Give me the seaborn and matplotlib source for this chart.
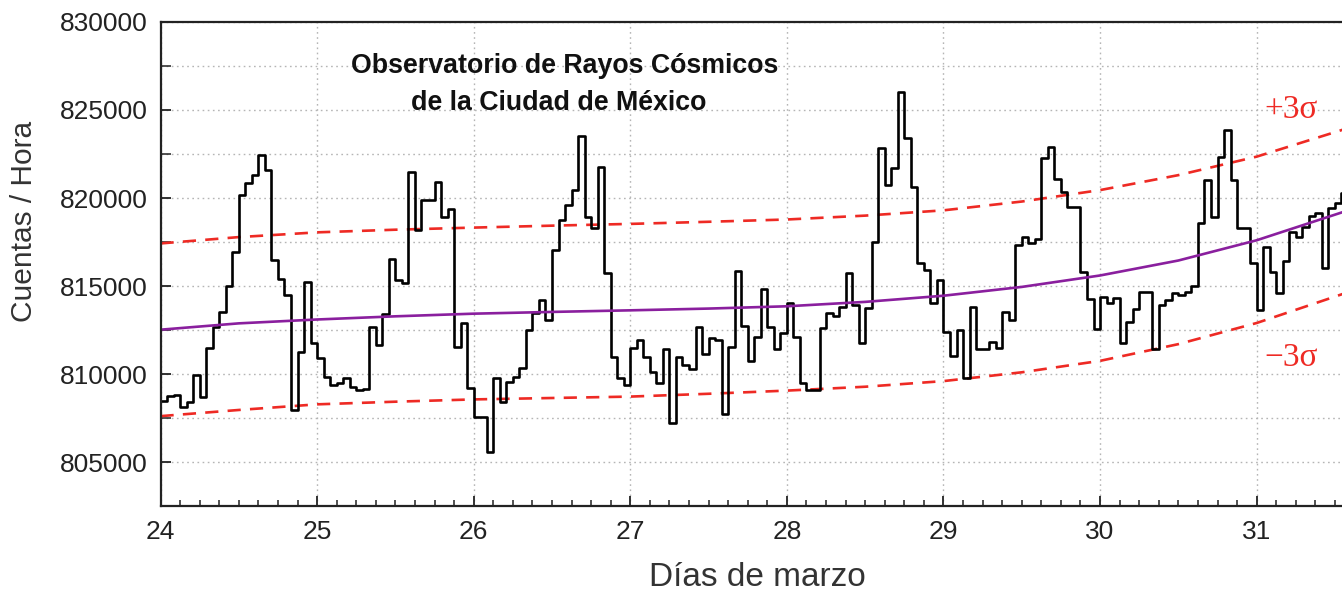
import numpy as np
import pandas as pd
import matplotlib
matplotlib.use("Agg")
import matplotlib.pyplot as plt
import seaborn as sns
from matplotlib.ticker import MultipleLocator, FuncFormatter

sns.set_style("ticks")
plt.rcParams['font.family'] = ['Liberation Sans', 'DejaVu Sans']

# Hourly counts, one list per day of March (hour 0 .. 23)
march_24 = [808480, 808750, 808800, 808140, 808430, 809940, 808710, 811460,
            812690, 813540, 815000, 816950, 820170, 820830, 821310, 822440,
            821590, 816480, 815380, 814490, 807950, 811270, 815240, 811740]
march_25 = [810890, 809850, 809370, 809470, 809750, 809280, 809090, 809130,
            812690, 811650, 813410, 816520, 815340, 815150, 821490, 818180,
            819890, 819890, 820890, 818900, 819370, 811550, 812910, 809220]
march_26 = [807570, 807570, 805580, 809750, 808430, 809560, 809850, 810320,
            812500, 813450, 814200, 813070, 817050, 818750, 819600, 820450,
            823520, 818940, 818280, 821780, 815760, 810980, 809750, 809370]
march_27 = [811460, 811930, 810970, 810130, 809470, 811400, 807230, 810950,
            810510, 810270, 812650, 811140, 812030, 811930, 807730, 811550,
            815870, 812730, 810760, 812120, 814810, 812650, 811400, 812310]
march_28 = [814020, 812080, 809470, 809090, 809090, 812600, 813450, 813300,
            813820, 815760, 813920, 811740, 813730, 817520, 822820, 820740,
            821690, 826040, 823390, 820640, 816290, 815910, 814020, 815340]
march_29 = [812400, 811020, 812500, 809750, 813820, 811420, 811420, 811800,
            811460, 813540, 813070, 817330, 817770, 817460, 817650, 822260,
            822880, 821060, 820360, 819510, 819510, 815810, 814240, 812540]
march_30 = [814390, 814020, 814300, 811780, 812970, 813680, 814680, 814680,
            811400, 813920, 814200, 814620, 814490, 814680, 815000, 818600,
            821020, 818940, 822350, 823860, 821020, 818300, 818300, 816320]
march_31 = [813640, 817190, 815770, 814580, 816420, 818080, 817800, 818370,
            818980, 819130, 816000, 819410, 819700, 820270, 817430]

# Smooth trend and the +/- 3 sigma band around it
trend_days = [24.0, 24.5, 25.0, 25.5, 26.0, 26.5, 27.0, 27.5,
              28.0, 28.5, 29.0, 29.5, 30.0, 30.5, 31.0, 31.55]
trend_counts = [812520, 812880, 813100, 813280, 813430, 813530, 813620, 813720,
                813850, 814100, 814450, 814950, 815600, 816450, 817600, 819200]
upper_3sigma = [817420, 817780, 818050, 818200, 818320, 818430, 818530, 818650,
                818780, 819000, 819300, 819800, 820450, 821300, 822350, 823880]
lower_3sigma = [807610, 807960, 808280, 808430, 808560, 808640, 808720, 808880,
                809060, 809280, 809600, 810100, 810750, 811700, 812900, 814550]

x_ticks = [24, 25, 26, 27, 28, 29, 30, 31]
y_ticks = [805000, 810000, 815000, 820000, 825000, 830000]

counts = march_24 + march_25 + march_26 + march_27 + march_28 + march_29 + march_30 + march_31
hours = 24 + np.arange(len(counts)) / 24.0
steps = pd.DataFrame({"dia": np.append(hours, hours[-1] + 1 / 24.0),
                      "cuentas": counts + [counts[-1]]})
trend = pd.DataFrame({"dia": trend_days, "ajuste": trend_counts,
                      "sup": upper_3sigma, "inf": lower_3sigma})

fig = plt.figure(figsize=(13.42, 5.94), dpi=100)
ax = fig.add_axes([0.1196, 0.148, 1.0 - 0.1196, 0.815])

red = "#ee2a24"
sns.lineplot(data=trend, x="dia", y="sup", ax=ax, color=red, lw=1.9,
             linestyle=(0, (5, 3.5)), estimator=None)
sns.lineplot(data=trend, x="dia", y="inf", ax=ax, color=red, lw=1.9,
             linestyle=(0, (5, 3.5)), estimator=None)
sns.lineplot(data=steps, x="dia", y="cuentas", ax=ax, color="black", lw=1.9,
             drawstyle="steps-post", estimator=None)
sns.lineplot(data=trend, x="dia", y="ajuste", ax=ax, color="#8a1f9e", lw=1.9,
             estimator=None)

ax.set_xlim(24, 31.545)
ax.set_ylim(802500, 830000)
ax.set_xticks(x_ticks)
ax.set_yticks(y_ticks)
ax.xaxis.set_minor_locator(MultipleLocator(0.125))
ax.yaxis.set_minor_locator(MultipleLocator(2500))
ax.yaxis.set_major_formatter(FuncFormatter(lambda v, p: f"{int(v)}"))

grid_style = dict(color="#b5b5b5", lw=1.0, linestyle=(0, (1.2, 2.5)))
ax.grid(which="major", axis="both", **grid_style)
ax.grid(which="minor", axis="y", **grid_style)
ax.set_axisbelow(True)

ax.tick_params(which="major", direction="in", length=7, width=1.3,
               labelsize=19, colors="#222222")
ax.tick_params(axis="x", which="major", pad=10)
ax.tick_params(axis="y", which="major", pad=9)
ax.tick_params(which="minor", direction="in", length=4, width=1.1, colors="#222222")
ax.tick_params(axis="y", which="minor", length=7)
for side in ("left", "bottom", "top"):
    ax.spines[side].set_linewidth(1.6)
    ax.spines[side].set_color("#222222")
ax.spines["right"].set_visible(False)

ax.set_xlabel("Días de marzo", fontsize=24, color="#333333")
ax.xaxis.set_label_coords(0.505, -0.115)
ax.set_ylabel("Cuentas / Hora", fontsize=21.5, color="#333333")
ax.yaxis.set_label_coords(-0.104, 0.587)

ax.text(26.58, 827500, "Observatorio de Rayos Cósmicos", ha="center", va="center",
        fontsize=19.3, fontweight="bold", color="#111111")
ax.text(26.54, 825400, "de la Ciudad de México", ha="center", va="center",
        fontsize=19.3, fontweight="bold", color="#111111")

ax.text(31.22, 825000, "+3σ", ha="center", va="center", color=red, fontsize=24,
        family=["Liberation Serif", "DejaVu Serif"])
ax.text(31.22, 810900, "−3σ", ha="center", va="center", color=red, fontsize=24,
        family=["Liberation Serif", "DejaVu Serif"])

fig.savefig("out.png", dpi=100)
